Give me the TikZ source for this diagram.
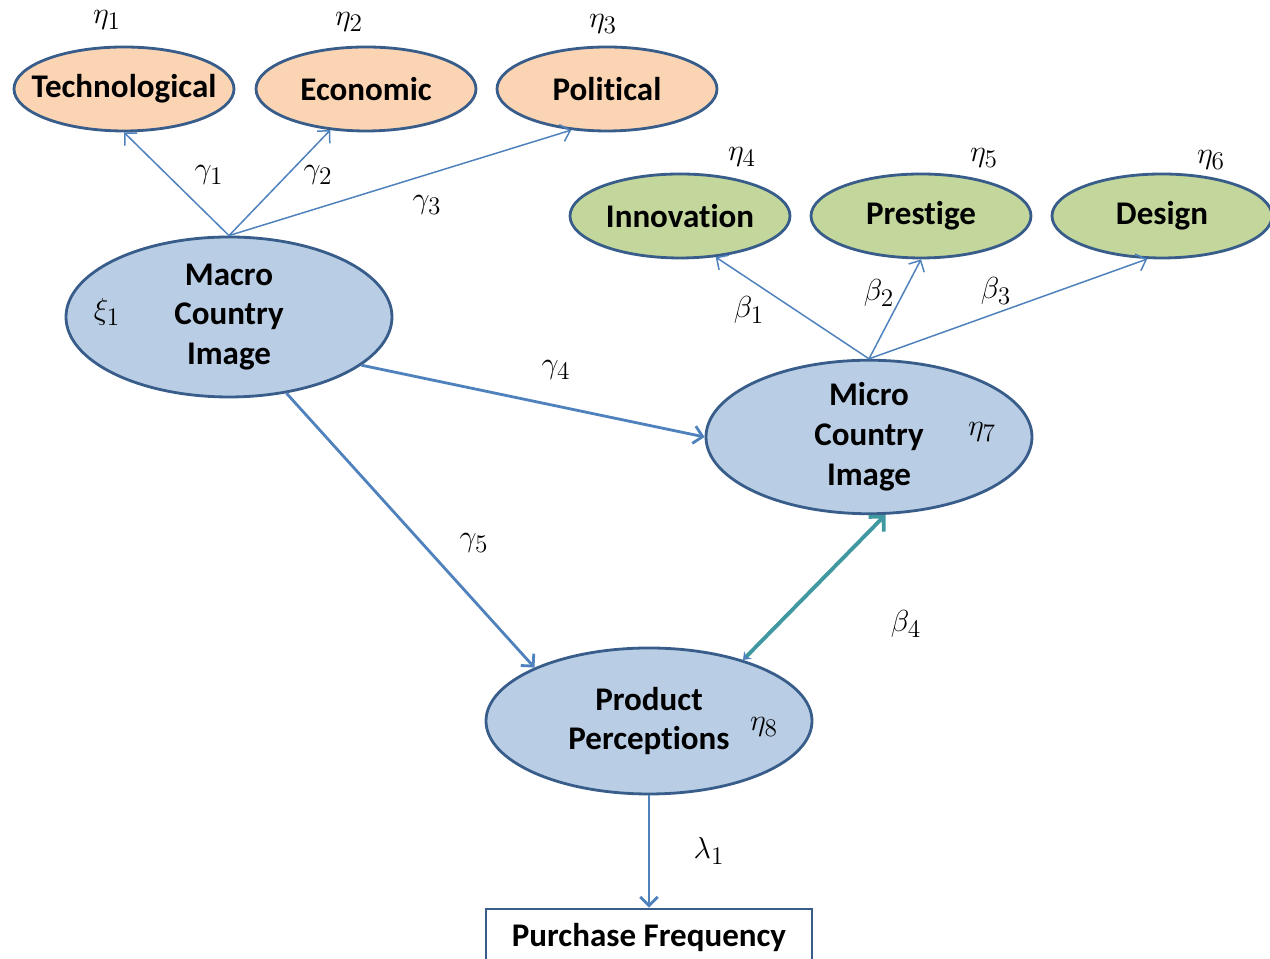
\documentclass[tikz,border=0pt]{standalone}
\usepackage{fontspec}
\setmainfont{Carlito}[Ligatures=NoCommon]
\usetikzlibrary{shapes.geometric,arrows.meta}

\definecolor{edgeblue}{RGB}{56,93,138}
\definecolor{arrowblue}{RGB}{79,129,189}
\definecolor{teal4}{RGB}{64,152,160}
\definecolor{peach}{RGB}{251,212,180}
\definecolor{sage}{RGB}{195,214,155}
\definecolor{paleblue}{RGB}{185,205,229}

\tikzset{
  latent/.style={ellipse, draw=edgeblue, line width=1.6pt, inner sep=0pt,
    align=center, font=\fontsize{18.8}{22.7}\selectfont\bfseries},
  outer/.style={latent, fill=peach, minimum width=4.4cm, minimum height=1.68cm},
  micro/.style={latent, fill=sage, minimum width=4.4cm, minimum height=1.68cm},
  bigone/.style={latent, fill=paleblue, minimum width=6.52cm, minimum height=2.92cm},
  coef/.style={font=\fontsize{19}{22}\selectfont},
  path/.style={->, arrowblue, line width=0.85pt},
  mainpath/.style={->, arrowblue, line width=1.6pt},
  >={Straight Barb[length=5pt,width=10pt]}
}

\begin{document}
\begin{tikzpicture}
	\useasboundingbox (0,0) rectangle (25.4,19.18);
	\clip (0,0) rectangle (25.4,19.18);
	% country dimensions
	\node [outer] (tech) at (2.48,17.40) {\makebox[0pt]{Technological}};
	\node [outer] (econ) at (7.32,17.40) {Economic};
	\node [outer] (pol) at (12.14,17.40) {Political};
	\node [micro] (innov) at (13.60,14.86) {Innovation};
	\node [micro] (prest) at (18.42,14.86) {Prestige};
	\node [micro] (design) at (23.24,14.86) {Design};
	% latent constructs
	\node [bigone, minimum height=3.2cm] (macro) at (4.58,12.84) {Macro\\Country\\Image};
	\node [bigone] (microci) at (17.38,10.44) {Micro\\Country\\Image};
	\node [bigone] (prod) at (12.98,4.76) {Product\\Perceptions};
	\node [draw=edgeblue, line width=1.6pt, minimum width=6.52cm, minimum height=1.24cm] (freq) at (12.98,0.38) {};
	\node [font=\fontsize{18.8}{22}\selectfont\bfseries] (freqtext) at (12.98,0.42) {Purchase Frequency};
	% paths
	\draw [path] (macro.north) -- (tech.south);
	\draw [path] (macro.north) -- (econ.229);
	\draw [path] (macro.north) -- (pol.229);
	\draw [path] (microci.north) -- (innov.311);
	\draw [path] (microci.north) -- (prest.south);
	\draw [path] (microci.north) -- (design.251);
	\draw [mainpath] (macro.340) -- (microci.west);
	\draw [mainpath] (macro.307) -- (prod.155);
	\draw [mainpath] (prod.south) -- (freq.north);
	\draw [{Stealth[length=4pt,width=6pt,arrowblue]}-{Straight Barb[length=6pt,width=12pt]},
	  teal4, line width=2.2pt] (prod.33) -- (microci.282);
	% coefficients
	\node [coef] (eta1) at (2.14,18.78) {$\eta_1$};
	\node [coef] (eta2) at (6.98,18.74) {$\eta_2$};
	\node [coef] (eta3) at (12.06,18.70) {$\eta_3$};
	\node [coef] (eta4) at (14.84,16.04) {$\eta_4$};
	\node [coef] (eta5) at (19.68,16.02) {$\eta_5$};
	\node [coef] (eta6) at (24.22,15.98) {$\eta_6$};
	\node [coef] (eta7) at (19.64,10.54) {$\eta_7$};
	\node [coef] (eta8) at (15.28,4.64) {$\eta_8$};
	\node [coef] (xi1) at (2.14,12.94) {$\xi_1$};
	\node [coef] (g1) at (4.18,15.68) {$\gamma_1$};
	\node [coef] (g2) at (6.36,15.68) {$\gamma_2$};
	\node [coef] (g3) at (8.54,15.08) {$\gamma_3$};
	\node [coef] (g4) at (11.12,11.78) {$\gamma_4$};
	\node [coef] (g5) at (9.48,8.32) {$\gamma_5$};
	\node [coef] (b1) at (14.98,12.98) {$\beta_1$};
	\node [coef] (b2) at (17.58,13.32) {$\beta_2$};
	\node [coef] (b3) at (19.92,13.36) {$\beta_3$};
	\node [coef] (b4) at (18.12,6.70) {$\beta_4$};
	\node [coef] (l1) at (14.18,2.16) {$\lambda_1$};
\end{tikzpicture}
\end{document}
